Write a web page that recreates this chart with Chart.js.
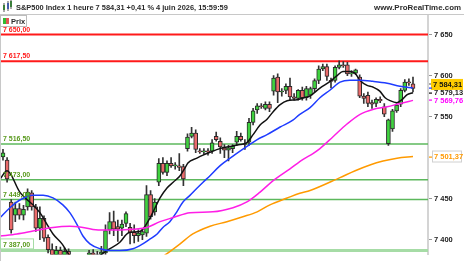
<!DOCTYPE html>
<html><head><meta charset="utf-8">
<script src="https://cdn.jsdelivr.net/npm/chart.js@4/dist/chart.umd.min.js"></script>
<style>html,body{margin:0;padding:0;background:#fff;overflow:hidden}#wrap{width:464px;height:261px;position:relative}canvas{display:block}</style>
</head><body><div id="wrap"><canvas id="c" width="464" height="261"></canvas></div>
<script>
// ---- data (hourly candles, index 0..100) ----
const opens  = [7501,7497,7446,7430,7438,7430,7440,7457,7440,7414,7426,7403,7388,7380,7387,7379,7386,7374,7364,7368,7362,7372,7384,7376,7382,
                7384,7412,7422,7416,7414,7420,7415,7409,7405,7406,7408,7455,7434,7470,7493,7482,7493,7490,7490,7489,7511,7526,7530,7508,7507,
                7508,7508,7526,7520,7512,7509,7511,7519,7526,7517,7519,7543,7558,7563,7560,7565,7581,7598,7580,7582,7587,7574,7572,7582,7573,
                7576,7584,7594,7608,7611,7594,7594,7610,7613,7613,7602,7603,7598,7575,7576,7567,7566,7571,7562,7517,7535,7557,7565,7582,7592,7590];
const highs  = [7510,7500,7449,7446,7444,7442,7462,7460,7443,7440,7429,7406,7395,7392,7391,7390,7389,7378,7372,7374,7376,7387,7388,7386,7392,
                7418,7433,7435,7424,7424,7434,7420,7418,7412,7414,7466,7460,7450,7499,7500,7496,7500,7494,7505,7492,7529,7537,7534,7511,7511,
                7511,7522,7531,7524,7516,7515,7516,7532,7530,7522,7548,7560,7566,7566,7568,7568,7600,7602,7584,7590,7597,7578,7583,7586,7587,
                7586,7596,7612,7614,7614,7597,7612,7618,7617,7616,7606,7608,7601,7578,7580,7570,7573,7574,7566,7547,7559,7566,7584,7595,7596,7598];
const lows   = [7497,7470,7408,7422,7425,7424,7436,7436,7410,7400,7398,7384,7375,7374,7376,7372,7370,7360,7356,7358,7358,7366,7372,7370,7377,
                7380,7407,7405,7398,7405,7416,7395,7396,7398,7400,7404,7425,7430,7466,7480,7478,7488,7486,7484,7466,7508,7524,7506,7505,7504,
                7503,7505,7520,7505,7500,7496,7506,7515,7520,7510,7515,7540,7554,7560,7558,7556,7576,7567,7575,7578,7570,7570,7570,7570,7570,
                7572,7580,7590,7606,7594,7585,7592,7608,7610,7600,7599,7601,7573,7566,7562,7560,7562,7567,7550,7515,7532,7555,7562,7580,7588,7580];
const closes = [7506,7474,7412,7438,7430,7437,7458,7440,7414,7426,7402,7388,7380,7387,7379,7386,7374,7364,7368,7362,7372,7384,7376,7382,7385,
                7411,7422,7413,7413,7419,7432,7409,7405,7408,7410,7455,7428,7446,7493,7482,7493,7490,7491,7488,7474,7525,7530,7510,7507,7508,
                7507,7518,7522,7513,7509,7512,7514,7526,7522,7516,7543,7557,7563,7562,7565,7560,7597,7580,7581,7587,7574,7572,7582,7573,7584,
                7584,7594,7608,7611,7599,7593,7610,7613,7612,7602,7603,7607,7575,7572,7566,7565,7571,7569,7553,7546,7557,7564,7582,7592,7591,7584.31];

// moving averages: [candle index, value]
const maBlack = [[-0.7,7474],[1,7484],[4.1,7458],[5.4,7451],[7.3,7442.5],[9,7433],[10.7,7419],[12.2,7407],[14.4,7395],[15.6,7385.6],[16.8,7377],
  [18.8,7369],[21.2,7371],[23.7,7381],[25.4,7387],[28.5,7397],[30.2,7407],[31,7409],[33.4,7410],[34.6,7416],[35.9,7427],[37.1,7439],[38.3,7451],
  [40,7463],[41.5,7470],[43.2,7478],[44.4,7487.5],[45.1,7493.5],[47.3,7499.4],[48.8,7503],[50.5,7506.5],[52.9,7511],[55.4,7513.6],[57.8,7516],
  [59.5,7518.4],[61,7528],[62.7,7539.7],[64.4,7546.8],[65.9,7556],[67.6,7564.6],[69.3,7569.4],[71.7,7570.6],[74.1,7574],[74.9,7575.3],
  [77.3,7584.8],[79.8,7593],[81.5,7600],[82.9,7605],[84.6,7605],[85.9,7602.6],[87.1,7594],[88.8,7588],[90.2,7586],[91.9,7581],[93.2,7573],
  [94.4,7569.4],[96.1,7567],[97.3,7570.6],[98.5,7576.5],[100,7579.13]];
const maBlue = [[-0.7,7427],[1.7,7439],[4.1,7448.4],[7.3,7454.3],[9.8,7454.3],[12.2,7451],[14.6,7442.5],[16.3,7433],[18,7419],[19.5,7404.5],
  [21.2,7395],[23.7,7389],[26.1,7386.8],[28.5,7386.8],[31.7,7389],[34.1,7395],[35.9,7401],[37.6,7407],[39,7415],[40.7,7422],[42.4,7434],
  [43.9,7446],[45.6,7454],[47.3,7462.6],[48.8,7470],[50.5,7478],[52.9,7490],[56.1,7501.8],[59.5,7513.6],[62,7522],[64.4,7528],[67.6,7537.3],
  [70.7,7545.6],[72.4,7552.8],[74.9,7561],[77.3,7573],[79.8,7582.4],[82.2,7592],[84.6,7594.3],[87.1,7594.3],[90.2,7593],[93.7,7590.7],
  [96.8,7587],[100,7585]];
const maMagenta = [[-0.7,7404.5],[3.4,7407],[7.3,7410.5],[12.2,7415],[16.3,7416.4],[19.5,7415],[23.7,7411.7],[28.5,7411.7],[31.7,7412.8],
  [35.1,7415],[38.3,7422],[41.5,7427],[45.6,7433],[51.2,7434],[56.1,7439],[59.5,7446],[62.7,7458],[65.9,7472],[70,7486.4],[73.2,7498],
  [75.6,7505],[77.3,7511],[80.5,7525.5],[83.9,7541],[87.1,7552.8],[90.2,7558.7],[93.7,7562],[96.8,7566],[100,7569.76]];
const maOrange = [[38.3,7377],[40,7383],[43.2,7395],[46.3,7407],[50.5,7416.4],[54.6,7422],[58.5,7428],[62,7434],[65.1,7442.5],[69.3,7450.8],
  [72.4,7456.7],[74.9,7460],[82.2,7475.7],[85.9,7484],[89.5,7491],[92.7,7495.8],[96.1,7499.4],[100,7501.37]];

const levelValues = [7650, 7617.5, 7516.5, 7473, 7449, 7387];
const levelLabels = ["7 650,00", "7 617,50", "7 516,50", "7 473,00", "7 449,00", "7 387,00"];
const yTicks = [7400, 7450, 7550, 7600, 7650];
const yTickLabels = ["7 400", "7 450", "7 550", "7 600", "7 650"];
const lastValues = {price: 7584.31, black: 7579.13, blue: 7585, magenta: 7569.76, orange: 7501.37};
const lastLabels = {price: "7 584,31", black: "7 579,13", magenta: "7 569,76", orange: "7 501,37"};
const headerText = "S&P500 Index 1 heure 7 584,31 +0,41 % 4 juin 2026, 15:59:59";
const siteText = "www.ProRealTime.com";

// ---- chart ----
const X_MIN = -0.73, X_MAX = 103.66;
const idx = opens.map((_, i) => i);
const FONT = '"Liberation Sans", Arial, sans-serif';
const GREEN = '#3fd23f', RED = '#ea6b6b';
const levelColors = ['#ff1a1a', '#ff1a1a', '#5cb85c', '#5cb85c', '#5cb85c', '#a6dca6'];
const levelWidths = [2, 2, 1.5, 1.5, 1.5, 3];
const levelTextColors = ['#ff1a1a', '#ff1a1a', '#5a9a1e', '#5a9a1e', '#5a9a1e', '#5a9a1e'];

const levelDatasets = levelValues.map((v, k) => ({
  type: 'line', data: [{x: X_MIN, y: v}, {x: X_MAX, y: v}],
  borderColor: levelColors[k], borderWidth: levelWidths[k], pointRadius: 0, order: 20, clip: 0
}));
const maDs = (pts, color, w) => ({
  type: 'line', data: pts.map(p => ({x: p[0], y: p[1]})), borderColor: color, borderWidth: w,
  pointRadius: 0, cubicInterpolationMode: 'monotone', order: 1, clip: 0
});

const overlay = {
  id: 'overlay',
  afterDraw(chart) {
    const ctx = chart.ctx, ys = chart.scales.y, ca = chart.chartArea;
    ctx.save();
    // header separator and frame
    ctx.fillStyle = '#fff'; ctx.fillRect(0, 0, 464, 14);
    ctx.strokeStyle = '#c8c8c8'; ctx.lineWidth = 1;
    ctx.beginPath(); ctx.moveTo(0, 14.5); ctx.lineTo(464, 14.5); ctx.stroke();
    ctx.beginPath(); ctx.moveTo(0.5, 14); ctx.lineTo(0.5, 261); ctx.stroke();
    // header icon
    ctx.fillStyle = '#22aa22'; ctx.fillRect(3, 5, 2, 5);
    ctx.fillStyle = '#3366ff'; ctx.fillRect(7, 3, 2, 6);
    ctx.fillStyle = '#22aa22'; ctx.fillRect(10, 1, 2, 6);
    ctx.fillStyle = '#555'; ctx.fillRect(3.5, 3, 1, 9); ctx.fillRect(7.5, 1, 1, 10); ctx.fillRect(10.5, 0, 1, 9);
    // header texts
    ctx.fillStyle = '#2a2a2a'; ctx.textBaseline = 'alphabetic';
    ctx.font = 'bold 7px ' + FONT;
    let w = ctx.measureText(headerText).width;
    ctx.font = 'bold ' + (7 * 212 / w).toFixed(2) + 'px ' + FONT;
    ctx.textAlign = 'left'; ctx.fillText(headerText, 16, 10);
    ctx.font = 'bold 8px ' + FONT;
    w = ctx.measureText(siteText).width;
    ctx.font = 'bold ' + (8 * 87 / w).toFixed(2) + 'px ' + FONT;
    ctx.textAlign = 'right'; ctx.fillText(siteText, 461, 10);
    // legend box
    ctx.fillStyle = '#fff'; ctx.fillRect(0.5, 15.5, 26, 11);
    ctx.strokeStyle = '#bdbdbd'; ctx.strokeRect(0.5, 15.5, 26, 11);
    ctx.fillStyle = '#33bb33'; ctx.fillRect(3, 18, 3, 6);
    ctx.fillStyle = '#e05555'; ctx.fillRect(6, 18, 3, 6);
    ctx.fillStyle = '#2a2a2a'; ctx.textAlign = 'left';
    ctx.font = 'bold 7.5px ' + FONT; ctx.fillText('Prix', 11, 24);
    // level labels
    ctx.font = 'bold 7px ' + FONT;
    levelValues.forEach((v, k) => {
      const py = ys.getPixelForValue(v);
      if (k === 5) {
        ctx.fillStyle = '#fff'; ctx.fillRect(0.5, py - 11.5, 33, 10);
        ctx.strokeStyle = '#a6dca6'; ctx.lineWidth = 1; ctx.strokeRect(0.5, py - 11.5, 33, 10);
      }
      ctx.fillStyle = levelTextColors[k];
      ctx.fillText(levelLabels[k], 3, py - 3);
    });
    // right-side value labels
    const rx = ca.right;
    ctx.font = 'bold 7.5px ' + FONT; ctx.textBaseline = 'middle';
    const tick = (v, color) => { const p = ys.getPixelForValue(v); ctx.fillStyle = color; ctx.fillRect(rx + 1, Math.round(p) - 0.5, 3, 1.2); };
    // price box (shifted slightly up to avoid overlap, as in the original)
    let p = ys.getPixelForValue(lastValues.price) - 4;
    ctx.fillStyle = '#ffcc00'; ctx.fillRect(rx + 3, p - 5.5, 32, 11);
    ctx.fillStyle = '#111'; ctx.fillText(lastLabels.price, rx + 5, p + 0.5);
    ctx.fillStyle = '#555'; ctx.fillRect(rx + 1, Math.round(p) - 0.5, 2, 1);
    tick(lastValues.blue, '#1f3cff');
    tick(lastValues.black, '#111');
    p = ys.getPixelForValue(lastValues.black);
    ctx.fillStyle = '#222'; ctx.fillText(lastLabels.black, rx + 6, p + 0.5);
    tick(lastValues.magenta, '#ff00ff');
    p = ys.getPixelForValue(lastValues.magenta);
    ctx.fillStyle = '#ff00ff'; ctx.fillText(lastLabels.magenta, rx + 6, p + 0.5);
    tick(lastValues.orange, '#ff9900');
    p = ys.getPixelForValue(lastValues.orange);
    ctx.fillStyle = '#fff'; ctx.fillRect(rx + 4.5, p - 5.5, 29, 11);
    ctx.strokeStyle = '#d0d0d0'; ctx.lineWidth = 1; ctx.strokeRect(rx + 4.5, p - 5.5, 29, 11);
    ctx.fillStyle = '#ff9900'; ctx.fillText(lastLabels.orange, rx + 6, p + 0.5);
    ctx.restore();
  }
};

new Chart(document.getElementById('c'), {
  type: 'bar',
  data: {
    datasets: [
      ...levelDatasets,
      { type: 'bar', data: idx.map(i => ({x: i, y: [lows[i], highs[i]]})), backgroundColor: '#333',
        barThickness: 1, grouped: false, order: 10, clip: 0 },
      { type: 'bar', data: idx.map(i => ({x: i, y: [opens[i], closes[i]]})),
        backgroundColor: c => closes[c.dataIndex] >= opens[c.dataIndex] ? GREEN : RED,
        borderColor: '#2b2b2b', borderWidth: 1, borderSkipped: false, barThickness: 4, minBarLength: 1,
        grouped: false, order: 9, clip: 0 },
      maDs(maOrange, '#ff9a00', 1.5),
      maDs(maMagenta, '#ff1ee6', 1.5),
      maDs(maBlue, '#1f3cff', 1.5),
      maDs(maBlack, '#111111', 1.5)
    ]
  },
  options: {
    responsive: false, animation: false, devicePixelRatio: 1,
    layout: {padding: {top: 14, left: 0, right: 0, bottom: 0}},
    plugins: {legend: {display: false}, tooltip: {enabled: false}},
    scales: {
      x: {type: 'linear', min: X_MIN, max: X_MAX, offset: false, display: false},
      y: {
        type: 'linear', position: 'right', min: 7382, max: 7675,
        afterBuildTicks: s => { s.ticks = yTicks.map(v => ({value: v})); },
        afterFit: s => { s.width = 36; },
        grid: {drawOnChartArea: false, color: '#999', tickLength: 4, lineWidth: 1},
        border: {color: '#d4d4d4', width: 2},
        ticks: {color: '#222', padding: 2, font: {family: FONT, size: 7.5, weight: 'bold'},
                callback: v => yTickLabels[yTicks.indexOf(v)]}
      }
    }
  },
  plugins: [overlay]
});
</script>
</body></html>
